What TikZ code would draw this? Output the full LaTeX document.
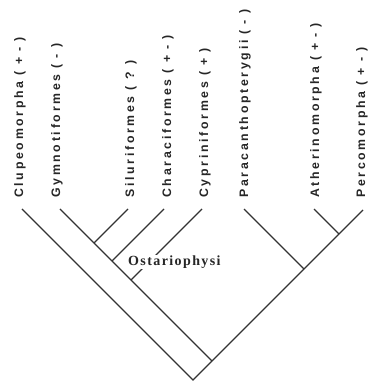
\documentclass[tikz,border=0pt]{standalone}
\usepackage{fontspec}
\newfontfamily\taxonfont[LetterSpace=22]{Liberation Sans}
\newfontfamily\cladefont[LetterSpace=10]{Liberation Serif}
\usetikzlibrary{positioning}

\begin{document}
\begin{tikzpicture}[
    x=1pt, y=1pt, % ein Pixel = ein Punkt
    taxon/.style={rotate=90, anchor=west, inner sep=0pt, text=black!85,
        font=\taxonfont\bfseries\fontsize{12.3}{12.3}\selectfont}, % Stil der Taxa
    clade/.style={anchor=west, fill=white, inner sep=1pt, text=black!85,
        font=\cladefont\bfseries\fontsize{14}{14}\selectfont}, % Stil des Kladen-Namens
    branch/.style={line width=1.1pt, draw=black!80} % Stil der Aeste
]
\useasboundingbox (0,0) rectangle (381,382);

% Taxa-Knoten
\node[taxon] (clu) at (20,184) {Clupeomorpha ( + - )};
\node[taxon] (gym) at (57,184) {Gymnotiformes ( - )};
\node[taxon] (sil) at (131,184) {Siluriformes ( ? )};
\node[taxon] (cha) at (168,184) {Characiformes ( + - )};
\node[taxon] (cyp) at (205,184) {Cypriniformes ( + )};
\node[taxon] (par) at (245,184) {Paracanthopterygii ( - )};
\node[taxon] (ath) at (316,184) {Atherinomorpha ( + - )};
\node[taxon] (per) at (362,184) {Percomorpha ( + - )};

% Astspitzen
\coordinate (tclu) at (22,173);
\coordinate (tgym) at (60,173);
\coordinate (tsil) at (128,173);
\coordinate (tcha) at (164,173);
\coordinate (tcyp) at (202,173);
\coordinate (tpar) at (244,173);
\coordinate (tath) at (314,173);
\coordinate (tper) at (363,172);

% Verzweigungen
\coordinate (root) at (193,2);
\coordinate (jgym) at (212,21);
\coordinate (jsil) at (94,139);
\coordinate (jcha) at (112,121);
\coordinate (jcyp) at (131,102);
\coordinate (jpar) at (304,113);
\coordinate (jath) at (339,148);

% Aeste
\draw[branch] (tclu) -- (root) -- (tper);
\draw[branch] (tgym) -- (jgym);
\draw[branch] (jsil) -- (tsil);
\draw[branch] (jcha) -- (tcha);
\draw[branch] (jcyp) -- (tcyp);
\draw[branch] (jpar) -- (tpar);
\draw[branch] (jath) -- (tath);

% Kladen-Name
\node[clade] (ost) at (127,120) {Ostariophysi};

\end{tikzpicture}
\end{document}
